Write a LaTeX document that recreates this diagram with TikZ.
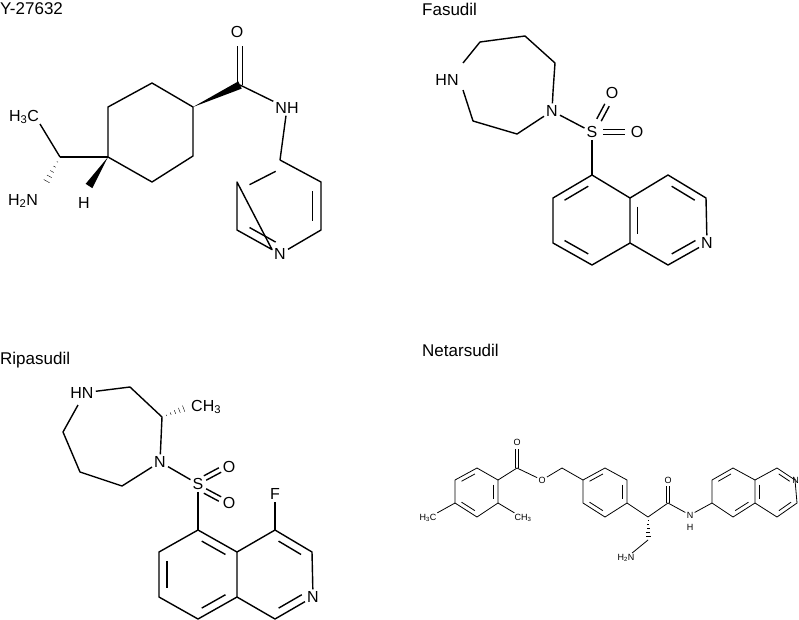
\documentclass[tikz,border=0pt]{standalone}
\usepackage{fontspec}
\setmainfont{Liberation Sans}
\usetikzlibrary{calc}
\newcommand\inr[3]{\coordinate (p) at ($(#1)!0.2!(#3)$);\coordinate (q) at ($(#2)!0.2!(#3)$);\draw ($(p)!0.12!(q)$) -- ($(p)!0.88!(q)$);}
\newcommand\pair[3]{\draw ($(#1)!#3!90:(#2)$) -- ($(#2)!#3!-90:(#1)$);\draw ($(#1)!#3!-90:(#2)$) -- ($(#2)!#3!90:(#1)$);}
\newcommand\wdg[3]{\fill (#1) -- ($(#2)!#3!90:(#1)$) -- ($(#2)!#3!-90:(#1)$) -- cycle;}
\newcommand\hsh[4]{\foreach \t in {1,...,#4}{\pgfmathsetmacro\f{\t/#4}\draw ($($(#1)!\f!(#2)$)!\f*#3!90:(#2)$) -- ($($(#1)!\f!(#2)$)!\f*#3!-90:(#2)$);}}
\begin{document}
\begin{tikzpicture}[x=1pt,y=-1pt,line join=round,
  big/.style={line width=1.4pt},
  small/.style={line width=0.8pt},
  ttl/.style={font=\fontsize{17}{19}\selectfont,inner sep=0pt,anchor=west},
  atom/.style={font=\fontsize{16}{18}\selectfont,inner sep=1.5pt},
  satom/.style={font=\fontsize{9}{10}\selectfont,inner sep=1pt}]
\useasboundingbox (0,0) rectangle (799,619);
% ---------- titles
\node[ttl] (t1) at (0,9) {Y-27632};
\node[ttl] (t2) at (422,9) {Fasudil};
\node[ttl] (t3) at (0,360) {Ripasudil};
\node[ttl] (t4) at (422,350) {Netarsudil};
% ---------- Y-27632
\begin{scope}[big]
\coordinate (a1) at (152,83); \coordinate (a2) at (193,107); \coordinate (a3) at (193,156);
\coordinate (a4) at (152,182); \coordinate (a5) at (108,157); \coordinate (a6) at (108,107);
\draw (a1)--(a2)--(a3)--(a4)--(a5)--(a6)--cycle;
\coordinate (cc) at (240,85);
\wdg{a2}{cc}{4pt}
\node[atom] (yo) at (237,32) {O};
\coordinate (yoe) at (240,46);
\pair{cc}{yoe}{2.5pt}
\node[atom] (ynh) at (287,108) {NH};
\draw (cc)--(ynh);
\coordinate (p1) at (280,160); \coordinate (p2) at (321,182); \coordinate (p3) at (321,230);
\node[atom] (yn) at (280,254) {N};
\coordinate (p5) at (237,230); \coordinate (p6) at (237,182);
\coordinate (pc) at (279,206);
\draw (ynh)--(p1);
\draw (p1)--(p2)--(p3)--(yn)--(p5)--(p6)--cycle;
\inr{p2}{p3}{pc}\inr{p6}{p1}{pc}\inr{p5}{yn}{pc}
\coordinate (ch) at (60,157);
\draw (a5)--(ch);
\node[atom] (yme) at (24,117) {H\textsubscript{3}C};
\draw (ch)--(40,124) coordinate (ymee);
\node[atom] (ynh2) at (23,201) {H\textsubscript{2}N};
\coordinate (yhe) at (44,186);
\end{scope}
\hsh{ch}{yhe}{4pt}{6}
\node[atom] (yh) at (84,203) {H};
\coordinate (yhw) at (89,186);
\wdg{a5}{yhw}{4pt}
% ---------- Fasudil
\begin{scope}[big]
\node[atom] (fhn) at (447,80) {HN};
\coordinate (f1) at (480,42); \coordinate (f2) at (525,36); \coordinate (f3) at (555,63);
\coordinate (f4) at (553,92);
\node[atom] (fn) at (552,111) {N};
\coordinate (f6) at (517,134); \coordinate (f7) at (473,121);
\draw (fn)--(f4)--(f3)--(f2)--(f1)--(463,63);
\draw (fn)--(f6)--(f7)--(463,90);
\node[atom] (fs) at (592,132) {S};
\draw (fn)--(fs);
\node[atom] (fo1) at (612,93) {O};
\node[atom] (fo2) at (637,132) {O};
\coordinate (fs1) at (599,120); \coordinate (fo1e) at (607,105);
\pair{fs1}{fo1e}{2.5pt}
\coordinate (fs2) at (603,132); \coordinate (fo2e) at (625,132);
\pair{fs2}{fo2e}{2.5pt}
\coordinate (g5) at (592,175); \coordinate (g4a) at (630,198); \coordinate (g8a) at (630,243);
\coordinate (g8) at (592,265); \coordinate (g7) at (553,243); \coordinate (g6) at (553,198);
\coordinate (g4) at (668,175); \coordinate (g3) at (706,198);
\node[atom] (gn) at (707,243) {N};
\coordinate (g1) at (668,265);
\coordinate (gc1) at (592,220); \coordinate (gc2) at (668,220);
\draw (fs)--(g5);
\draw (g5)--(g4a)--(g8a)--(g8)--(g7)--(g6)--cycle;
\draw (g4a)--(g4)--(g3)--(gn)--(g1)--(g8a);
\inr{g5}{g6}{gc1}\inr{g7}{g8}{gc1}\inr{g4a}{g8a}{gc2}\inr{g4}{g3}{gc2}\inr{gn}{g1}{gc2}
\end{scope}
% ---------- Ripasudil
\begin{scope}[big]
\node[atom] (rhn) at (82,393) {HN};
\coordinate (r1) at (130,387); \coordinate (r2) at (162,417);
\node[atom] (rn) at (160,462) {N};
\coordinate (r4) at (122,486); \coordinate (r5) at (80,472); \coordinate (r6) at (63,432);
\draw (rhn)--(r1)--(r2)--(rn)--(r4)--(r5)--(r6)--(78,405);
\node[atom,anchor=west] (rme) at (189,407) {CH\textsubscript{3}};
\coordinate (rmee) at (188,407);
\node[atom] (rs) at (198,484) {S};
\draw (rn)--(rs);
\node[atom] (ro1) at (229,467) {O};
\node[atom] (ro2) at (229,503) {O};
\coordinate (rs1) at (205,478); \coordinate (ro1e) at (220,470);
\pair{rs1}{ro1e}{2.5pt}
\coordinate (rs2) at (205,491); \coordinate (ro2e) at (220,499);
\pair{rs2}{ro2e}{2.5pt}
\coordinate (h5) at (198,530); \coordinate (h4a) at (237,552); \coordinate (h8a) at (237,597);
\coordinate (h8) at (198,619); \coordinate (h7) at (159,597); \coordinate (h6) at (159,552);
\coordinate (h4) at (275,530); \coordinate (h3) at (312,552);
\node[atom] (hn) at (313,597) {N};
\coordinate (h1) at (275,619);
\coordinate (hc1) at (198,575); \coordinate (hc2) at (275,575);
\draw (rs)--(h5);
\draw (h5)--(h4a)--(h8a)--(h8)--(h7)--(h6)--cycle;
\draw (h4a)--(h4)--(h3)--(hn)--(h1)--(h8a);
\node[atom] (rf) at (275,494) {F};
\draw (h4)--(rf);
\inr{h6}{h7}{hc1}\inr{h8}{h8a}{hc1}\inr{h5}{h4a}{hc1}\inr{h4}{h3}{hc2}\inr{hn}{h1}{hc2}
\end{scope}
\hsh{r2}{rmee}{4pt}{6}
% ---------- Netarsudil
\begin{scope}[small]
\coordinate (n1) at (455,480); \coordinate (n2) at (477,468); \coordinate (n3) at (498,480);
\coordinate (n4) at (498,503); \coordinate (n5) at (477,517); \coordinate (n6) at (455,503);
\coordinate (nc1) at (477,492);
\draw (n1)--(n2)--(n3)--(n4)--(n5)--(n6)--cycle;
\inr{n1}{n2}{nc1}\inr{n3}{n4}{nc1}\inr{n5}{n6}{nc1}
\node[satom] (nme1) at (428,518) {H\textsubscript{3}C};
\draw (n6)--(nme1);
\node[satom] (nme2) at (523,518) {CH\textsubscript{3}};
\draw (n4)--(nme2);
\coordinate (nco) at (517,468);
\draw (n3)--(nco);
\node[satom] (no1) at (517,442) {O};
\coordinate (no1e) at (517,449);
\pair{nco}{no1e}{1.5pt}
\node[satom] (no2) at (542,480) {O};
\coordinate (nch2) at (562,468);
\draw (nco)--(no2)--(nch2);
\coordinate (m1) at (583,480); \coordinate (m2) at (605,468); \coordinate (m3) at (627,480);
\coordinate (m4) at (627,503); \coordinate (m5) at (605,517); \coordinate (m6) at (583,503);
\coordinate (mc) at (605,492);
\draw (nch2)--(m1);
\draw (m1)--(m2)--(m3)--(m4)--(m5)--(m6)--cycle;
\inr{m1}{m2}{mc}\inr{m3}{m4}{mc}\inr{m5}{m6}{mc}
\coordinate (mch) at (648,517);
\coordinate (mco) at (668,503);
\draw (m4)--(mch)--(mco);
\node[satom] (mo) at (668,480) {O};
\coordinate (moe) at (668,486);
\pair{mco}{moe}{1.5pt}
\node[satom] (mnh) at (690,515) {N};
\node[satom] (mh) at (690,527) {H};
\draw (mco)--(mnh);
\coordinate (q6) at (712,503); \coordinate (q7) at (712,480); \coordinate (q8) at (733,468);
\coordinate (q8a) at (755,480); \coordinate (q4a) at (755,503); \coordinate (q5) at (733,517);
\coordinate (q1) at (777,468);
\node[satom,anchor=west] (qn) at (791,480) {N};
\coordinate (q3) at (797,503); \coordinate (q4) at (777,517);
\coordinate (qc1) at (733,492); \coordinate (qc2) at (777,492);
\coordinate (qnw) at (795,480);
\draw (mnh)--(q6);
\draw (q6)--(q7)--(q8)--(q8a)--(q4a)--(q5)--cycle;
\draw (q8a)--(q1)--(qnw); \draw (qnw)--(q3)--(q4)--(q4a);
\inr{q7}{q8}{qc1}\inr{q4a}{q5}{qc1}\inr{q8a}{q4a}{qc2}\inr{q1}{qnw}{qc2}\inr{q3}{q4}{qc2}
\coordinate (mch2) at (648,540);
\node[satom] (mnh2) at (626,558) {H\textsubscript{2}N};
\draw (mch2)--(mnh2);
\end{scope}
\begin{scope}[small]
\hsh{mch}{mch2}{3pt}{6}
\end{scope}
\end{tikzpicture}
\end{document}
